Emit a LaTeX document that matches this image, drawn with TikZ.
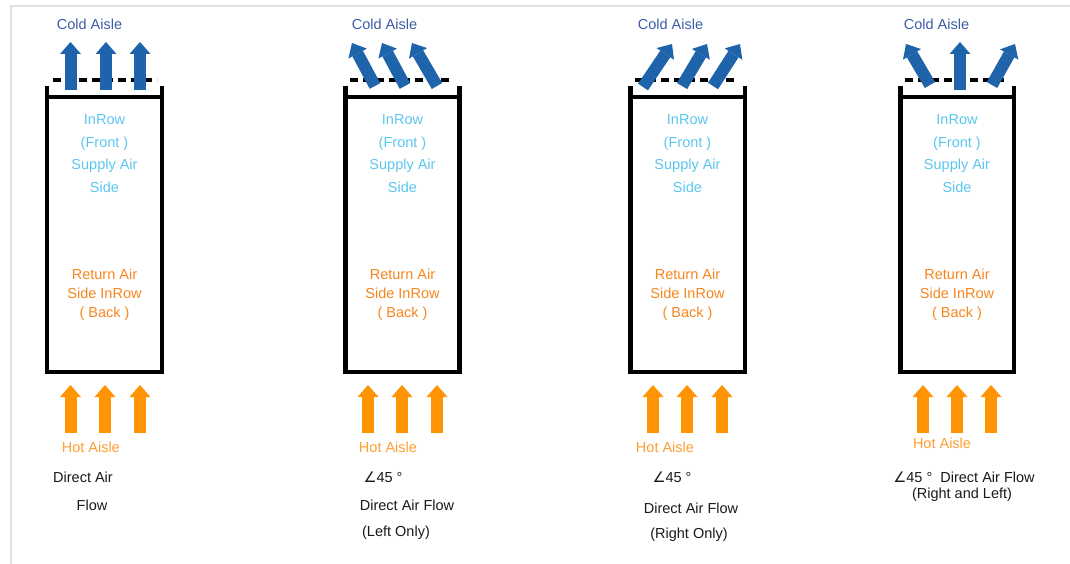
\documentclass[tikz,border=0pt]{standalone}
\usepackage{fontspec}
\setmainfont{Liberation Sans}
\newfontfamily\anglefont{DejaVu Sans}
\usetikzlibrary{arrows.meta}

\begin{document}
\begin{tikzpicture}[x=1pt, y=-1pt,
	cabinet/.style={line width=4.5pt, line join=miter},
	grille/.style={line width=3.5pt, dash pattern=on 8pt off 5pt},
	coldflow/.style={draw=coldarrow, line width=12pt, -{Triangle[width=21pt, length=12pt, line width=0pt]}},
	hotflow/.style={draw=hotarrow, line width=12pt, -{Triangle[width=21pt, length=12pt, line width=0pt]}},
	aisle/.style={font=\fontsize{14.5}{17}\selectfont},
	supply/.style={font=\fontsize{14.5}{22.5}\selectfont, text=supplytext, align=center},
	return/.style={font=\fontsize{14.5}{19}\selectfont, text=returntext, align=center},
	caption/.style={font=\fontsize{14.5}{17}\selectfont, text=black!90}]
	
	\definecolor{coldtext}{HTML}{3D5DA6}
	\definecolor{coldarrow}{HTML}{1F63AA}
	\definecolor{supplytext}{HTML}{5CC6EF}
	\definecolor{returntext}{HTML}{F7861E}
	\definecolor{hotarrow}{HTML}{FF9405}
	\definecolor{hottext}{HTML}{FF9E32}
	
	\useasboundingbox (0,0) rectangle (1070,564);
	
	% Page frame
	\draw[black!12, line width=1.2pt] (11,564) -- (11,6) -- (1070,6);
	
	% Cabinets
	\draw[cabinet] (47,86) -- (47,372) -- (162,372) -- (162,86) (47,97) -- (162,97);
	\draw[cabinet] (345.5,86) -- (345.5,372) -- (459.5,372) -- (459.5,86) (345.5,97) -- (459.5,97);
	\draw[cabinet] (630.5,86) -- (630.5,372) -- (745,372) -- (745,86) (630.5,97) -- (745,97);
	\draw[cabinet] (900.5,86) -- (900.5,372) -- (1014,372) -- (1014,86) (900.5,97) -- (1014,97);
	
	% Grilles above cabinets
	\draw[grille] (53,80) -- (157,80);
	\draw[grille] (350,80) -- (453,80);
	\draw[grille] (635,80) -- (738,80);
	\draw[grille] (905,80) -- (1008,80);
	
	% Text inside cabinets
	\node[supply] (s1) at (104.5,153.5) {InRow\\(Front )\\Supply Air\\Side};
	\node[supply] (s2) at (402.5,153.5) {InRow\\(Front )\\Supply Air\\Side};
	\node[supply] (s3) at (687.5,153.5) {InRow\\(Front )\\Supply Air\\Side};
	\node[supply] (s4) at (957,153.5) {InRow\\(Front )\\Supply Air\\Side};
	\node[return] (r1) at (104.5,295) {Return Air\\Side InRow\\( Back )};
	\node[return] (r2) at (402.5,295) {Return Air\\Side InRow\\( Back )};
	\node[return] (r3) at (687.5,295) {Return Air\\Side InRow\\( Back )};
	\node[return] (r4) at (957,295) {Return Air\\Side InRow\\( Back )};
	
	% Supply air arrows
	\draw[coldflow] (70.5,90) -- (70.5,42);
	\draw[coldflow] (106,90) -- (106,42);
	\draw[coldflow] (140,90) -- (140,42);
	\draw[coldflow] (375,86) -- (352,43);
	\draw[coldflow] (405,86) -- (382,43);
	\draw[coldflow] (437,86) -- (412,43);
	\draw[coldflow] (643,87) -- (672,44);
	\draw[coldflow] (682,86) -- (707,44);
	\draw[coldflow] (713,86) -- (740,44);
	\draw[coldflow] (930,85) -- (906,44);
	\draw[coldflow] (960,90) -- (960,42);
	\draw[coldflow] (992,85) -- (1015,44);
	
	% Return air arrows
	\draw[hotflow] (70.5,433) -- (70.5,385);
	\draw[hotflow] (105,433) -- (105,385);
	\draw[hotflow] (140,433) -- (140,385);
	\draw[hotflow] (368,433) -- (368,385);
	\draw[hotflow] (402,433) -- (402,385);
	\draw[hotflow] (437,433) -- (437,385);
	\draw[hotflow] (653,433) -- (653,385);
	\draw[hotflow] (687,433) -- (687,385);
	\draw[hotflow] (722,433) -- (722,385);
	\draw[hotflow] (923,433) -- (923,385);
	\draw[hotflow] (957,433) -- (957,385);
	\draw[hotflow] (991,433) -- (991,385);
	
	% Aisle labels
	\node[aisle, text=coldtext] (c1) at (89.5,24) {Cold Aisle};
	\node[aisle, text=coldtext] (c2) at (384.5,24) {Cold Aisle};
	\node[aisle, text=coldtext] (c3) at (670.5,24) {Cold Aisle};
	\node[aisle, text=coldtext] (c4) at (936.5,24) {Cold Aisle};
	\node[aisle, text=hottext] (h1) at (90.8,447) {Hot Aisle};
	\node[aisle, text=hottext] (h2) at (388,447) {Hot Aisle};
	\node[aisle, text=hottext] (h3) at (665,447) {Hot Aisle};
	\node[aisle, text=hottext] (h4) at (942,443) {Hot Aisle};
	
	% Flow mode captions
	\node[caption] (m1a) at (83,477) {Direct Air};
	\node[caption] (m1b) at (92,505) {Flow};
	\node[caption] (m2a) at (383,477) {{\anglefont ∠}45 °};
	\node[caption] (m2b) at (407,505) {Direct Air Flow};
	\node[caption] (m2c) at (396,533) {(Left Only)};
	\node[caption] (m3a) at (672,477) {{\anglefont ∠}45 °};
	\node[caption] (m3b) at (691,508) {Direct Air Flow};
	\node[caption] (m3c) at (689,535) {(Right Only)};
	\node[caption] (m4a) at (964,477) {{\anglefont ∠}45 °\ \ Direct Air Flow};
	\node[caption] (m4b) at (962,495) {(Right and Left)};
	
\end{tikzpicture}
\end{document}
